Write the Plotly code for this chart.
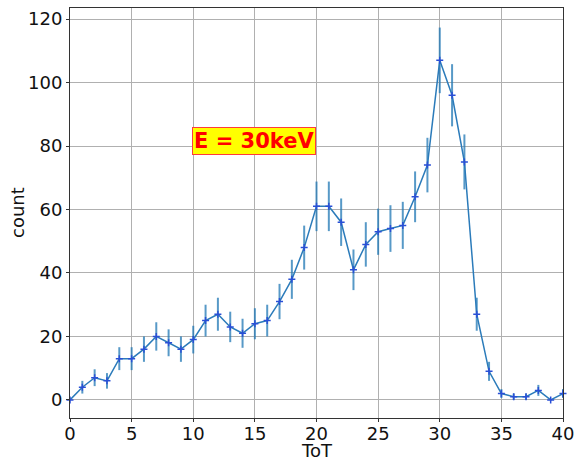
import plotly.graph_objects as go

# ToT histogram bins and counts
tot = list(range(0, 41))
counts = [0, 4, 7, 6, 13, 13, 16, 20, 18, 16,
          19, 25, 27, 23, 21, 24, 25, 31, 38, 48,
          61, 61, 56, 41, 49, 53, 54, 55, 64, 74,
          107, 96, 75, 27, 9, 2, 1, 1, 3, 0, 2]
# statistical uncertainty per bin
errors = [0.0, 2.0, 2.65, 2.45, 3.61, 3.61, 4.0, 4.47, 4.24, 4.0,
          4.36, 5.0, 5.2, 4.8, 4.58, 4.9, 5.0, 5.57, 6.16, 6.93,
          7.81, 7.81, 7.48, 6.4, 7.0, 7.28, 7.35, 7.42, 8.0, 8.6,
          10.34, 9.8, 8.66, 5.2, 3.0, 1.41, 1.0, 1.0, 1.73, 0.0, 1.41]

x_ticks = [0, 5, 10, 15, 20, 25, 30, 35, 40]
y_ticks = [0, 20, 40, 60, 80, 100, 120]
label_text = "E = 30keV"
x_title = "ToT"
y_title = "count"

FONT = "DejaVu Sans"

fig = go.Figure()
fig.add_trace(go.Scatter(
    x=tot, y=counts,
    mode="lines+markers",
    line=dict(color="#2b7bba", width=1.5),
    marker=dict(symbol="cross-thin", size=5, line=dict(color="#2a4fd6", width=1.5)),
    error_y=dict(type="data", array=errors, visible=True,
                 color="rgba(31,119,180,0.75)", thickness=2, width=0),
    showlegend=False,
    cliponaxis=False,
))

# boxed energy label
fig.add_annotation(
    x=14.9, y=81.5, xref="x", yref="y",
    text="<b>" + label_text + "</b>",
    showarrow=False,
    font=dict(family=FONT, size=21, color="#ff0000"),
    bgcolor="#ffff00", bordercolor="#ff3b3b", borderwidth=1, borderpad=1,
)

# axis titles placed as paper annotations
fig.add_annotation(
    x=0.5, y=0, xref="paper", yref="paper", yshift=-32,
    xanchor="center", yanchor="middle",
    text=x_title, showarrow=False,
    font=dict(family=FONT, size=18, color="#111111"),
)
fig.add_annotation(
    x=0, y=0.5, xref="paper", yref="paper", xshift=-53,
    xanchor="center", yanchor="middle", textangle=-90,
    text=y_title, showarrow=False,
    font=dict(family=FONT, size=18, color="#111111"),
)

axis_common = dict(
    showgrid=True, gridcolor="#b0b0b0", gridwidth=1,
    showline=True, linecolor="#333333", linewidth=1, mirror=True,
    ticks="outside", ticklen=3, tickcolor="#333333",
    tickfont=dict(family=FONT, size=18, color="#111111"),
    zeroline=False, automargin=False, ticklabeloverflow="allow",
)

fig.update_xaxes(range=[0, 40], tickvals=x_ticks, ticklabelstandoff=-4, **axis_common)
fig.update_yaxes(range=[-5.7, 123.5], tickvals=y_ticks, **axis_common)

fig.update_layout(
    width=574, height=460,
    margin=dict(l=70, r=11, t=8, b=42),
    plot_bgcolor="white", paper_bgcolor="white",
)

fig.write_html("out.html")
